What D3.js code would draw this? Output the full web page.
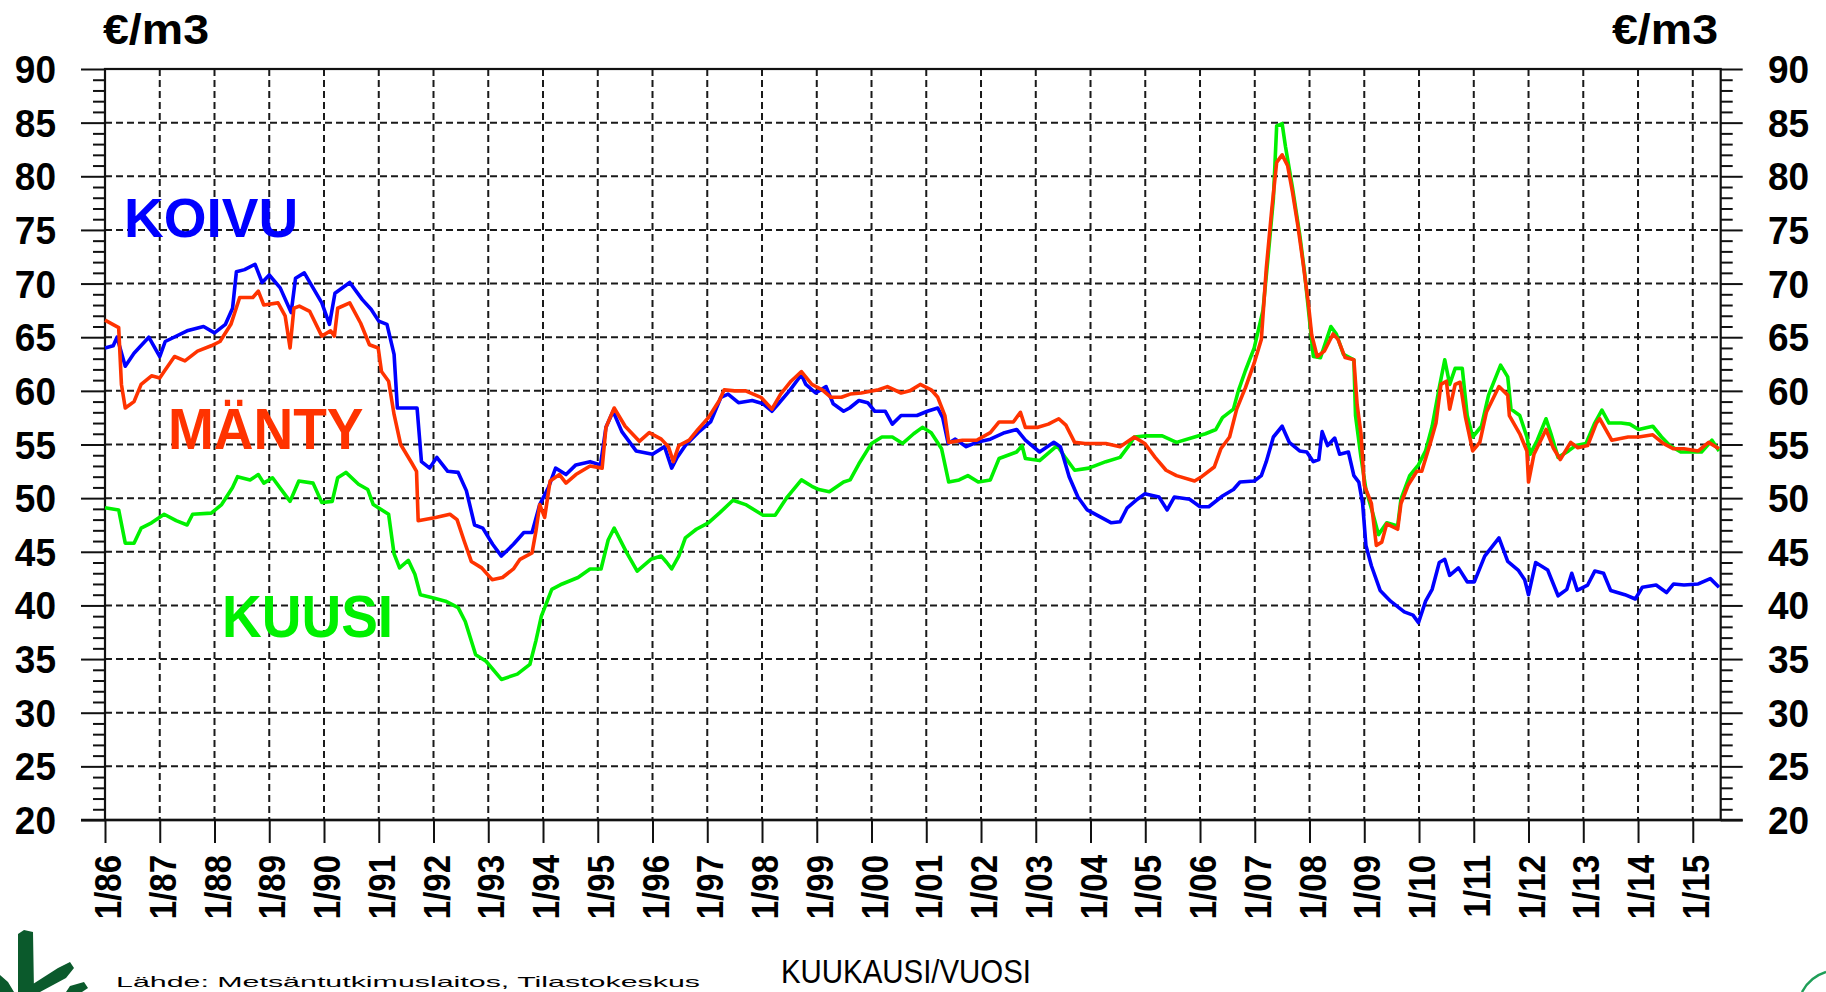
<!DOCTYPE html>
<html>
<head>
<meta charset="utf-8">
<script src="https://cdn.jsdelivr.net/npm/d3@7"></script>
<style>
  html, body { margin: 0; padding: 0; background: #ffffff; overflow: hidden; }
  svg { display: block; }
</style>
</head>
<body>
<script>
// ---------------- DATA ----------------
const yearTicks = d3.range(1986, 2016);
const yearLabels = yearTicks.map(y => "1/" + String(y % 100).padStart(2, "0"));
const valueTicks = [20, 25, 30, 35, 40, 45, 50, 55, 60, 65, 70, 75, 80, 85, 90];
const unitLabel = "€/m3";
const xAxisTitle = "KUUKAUSI/VUOSI";
const sourceText = "Lähde: Metsäntutkimuslaitos, Tilastokeskus";
const seriesNames = ["KOIVU", "MÄNTY", "KUUSI"];

// KOIVU (birch) [time, €/m3]
const koivu = [[1986.0,64.0],[1986.15,64.2],[1986.22,65.0],[1986.37,62.3],[1986.53,63.5],[1986.8,65.0],[1987.0,63.2],[1987.1,64.6],[1987.5,65.6],[1987.8,66.0],[1988.0,65.4],[1988.2,66.2],[1988.33,67.7],[1988.4,71.1],[1988.55,71.3],[1988.74,71.8],[1988.87,70.1],[1989.0,70.8],[1989.2,69.6],[1989.4,67.3],[1989.48,70.5],[1989.64,71.0],[1989.8,69.6],[1989.96,68.2],[1990.1,66.2],[1990.2,69.1],[1990.47,70.1],[1990.7,68.5],[1990.86,67.6],[1991.0,66.5],[1991.15,66.2],[1991.28,63.4],[1991.34,58.4],[1991.7,58.4],[1991.78,53.4],[1991.93,52.8],[1992.06,53.8],[1992.26,52.5],[1992.45,52.4],[1992.6,50.7],[1992.75,47.5],[1992.9,47.2],[1993.08,45.7],[1993.24,44.6],[1993.46,45.7],[1993.65,46.8],[1993.8,46.8],[1993.94,49.4],[1994.1,51.0],[1994.23,52.8],[1994.42,52.2],[1994.6,53.1],[1994.86,53.4],[1995.05,53.1],[1995.15,56.6],[1995.28,58.1],[1995.44,56.2],[1995.7,54.4],[1996.0,54.1],[1996.22,54.8],[1996.35,52.8],[1996.45,53.8],[1996.6,54.9],[1996.83,56.1],[1997.06,57.1],[1997.25,59.4],[1997.38,59.7],[1997.57,58.9],[1997.82,59.1],[1998.02,58.8],[1998.18,58.1],[1998.3,58.8],[1998.5,60.0],[1998.72,61.5],[1998.8,60.6],[1998.98,59.8],[1999.17,60.4],[1999.3,58.8],[1999.49,58.1],[1999.6,58.4],[1999.77,59.1],[1999.93,58.9],[2000.06,58.1],[2000.25,58.1],[2000.38,56.9],[2000.54,57.7],[2000.83,57.7],[2001.02,58.1],[2001.21,58.4],[2001.3,57.5],[2001.4,55.1],[2001.53,55.5],[2001.73,54.8],[2001.92,55.2],[2002.17,55.5],[2002.43,56.1],[2002.65,56.4],[2002.81,55.4],[2003.07,54.3],[2003.33,55.2],[2003.45,54.8],[2003.61,52.0],[2003.77,50.1],[2003.94,48.9],[2004.16,48.3],[2004.38,47.7],[2004.54,47.8],[2004.67,49.1],[2004.83,49.8],[2004.99,50.4],[2005.25,50.1],[2005.4,48.9],[2005.53,50.1],[2005.81,49.9],[2006.0,49.2],[2006.16,49.2],[2006.41,50.2],[2006.61,50.8],[2006.73,51.5],[2006.99,51.6],[2007.12,52.1],[2007.21,53.4],[2007.34,55.7],[2007.5,56.7],[2007.56,56.0],[2007.63,55.2],[2007.82,54.4],[2007.95,54.3],[2008.07,53.4],[2008.17,53.6],[2008.23,56.2],[2008.33,54.9],[2008.46,55.6],[2008.55,54.1],[2008.71,54.3],[2008.81,52.1],[2008.9,51.5],[2008.97,49.5],[2009.03,45.6],[2009.13,43.7],[2009.29,41.4],[2009.48,40.4],[2009.73,39.4],[2009.89,39.1],[2009.99,38.4],[2010.12,40.4],[2010.24,41.5],[2010.37,44.0],[2010.47,44.3],[2010.56,42.8],[2010.72,43.5],[2010.88,42.2],[2011.01,42.2],[2011.2,44.6],[2011.46,46.3],[2011.62,44.1],[2011.81,43.3],[2011.93,42.4],[2012.0,41.0],[2012.13,44.0],[2012.35,43.3],[2012.54,40.9],[2012.7,41.5],[2012.79,43.0],[2012.89,41.4],[2013.08,41.9],[2013.21,43.2],[2013.37,43.0],[2013.5,41.4],[2013.76,41.0],[2013.95,40.6],[2014.08,41.7],[2014.33,41.9],[2014.52,41.2],[2014.65,42.0],[2014.84,41.9],[2015.1,42.0],[2015.32,42.5],[2015.48,41.7]];

// MÄNTY (pine)
const manty = [[1986.0,66.6],[1986.25,65.9],[1986.3,60.6],[1986.37,58.4],[1986.53,59.0],[1986.66,60.6],[1986.85,61.4],[1987.0,61.2],[1987.08,61.8],[1987.27,63.2],[1987.46,62.8],[1987.69,63.7],[1987.94,64.2],[1988.1,64.6],[1988.3,66.2],[1988.46,68.7],[1988.7,68.7],[1988.8,69.3],[1988.9,68.0],[1989.16,68.2],[1989.29,67.0],[1989.38,64.0],[1989.45,67.7],[1989.55,67.9],[1989.74,67.4],[1989.96,65.1],[1990.12,65.6],[1990.19,65.1],[1990.25,67.7],[1990.47,68.2],[1990.67,66.3],[1990.83,64.3],[1990.99,64.0],[1991.05,61.8],[1991.18,60.9],[1991.28,57.8],[1991.4,55.0],[1991.6,53.3],[1991.69,52.5],[1991.72,47.9],[1992.04,48.2],[1992.3,48.5],[1992.43,48.0],[1992.56,46.0],[1992.69,44.1],[1992.88,43.5],[1993.07,42.4],[1993.26,42.6],[1993.46,43.4],[1993.58,44.3],[1993.8,44.9],[1993.87,46.9],[1993.94,49.4],[1994.03,48.2],[1994.13,51.6],[1994.3,52.2],[1994.42,51.4],[1994.6,52.2],[1994.86,53.0],[1995.08,52.8],[1995.15,56.6],[1995.3,58.4],[1995.5,56.7],[1995.76,55.3],[1995.94,56.1],[1996.16,55.5],[1996.29,54.8],[1996.38,53.4],[1996.48,54.9],[1996.67,55.4],[1996.83,56.4],[1997.02,57.5],[1997.22,59.1],[1997.31,60.1],[1997.5,60.0],[1997.7,60.0],[1997.98,59.4],[1998.18,58.3],[1998.34,59.7],[1998.53,60.9],[1998.72,61.8],[1998.91,60.6],[1999.1,60.1],[1999.26,59.4],[1999.45,59.4],[1999.61,59.7],[1999.81,59.8],[2000.13,60.1],[2000.29,60.4],[2000.54,59.8],[2000.7,60.0],[2000.89,60.6],[2001.09,60.1],[2001.21,59.4],[2001.34,57.7],[2001.41,55.2],[2001.66,55.4],[2001.92,55.4],[2002.17,56.1],[2002.33,57.1],[2002.59,57.1],[2002.72,58.0],[2002.81,56.6],[2003.04,56.6],[2003.23,56.9],[2003.42,57.4],[2003.55,56.8],[2003.71,55.2],[2003.9,55.1],[2004.28,55.1],[2004.54,54.8],[2004.8,55.7],[2004.99,55.1],[2005.18,53.8],[2005.38,52.6],[2005.57,52.1],[2005.9,51.6],[2006.03,52.0],[2006.26,52.9],[2006.38,54.6],[2006.54,55.7],[2006.67,58.3],[2006.83,60.3],[2006.99,62.6],[2007.12,64.8],[2007.21,71.4],[2007.31,76.9],[2007.4,81.3],[2007.5,82.0],[2007.6,81.0],[2007.69,78.5],[2007.79,75.3],[2007.88,72.0],[2007.98,68.1],[2008.04,65.2],[2008.14,63.2],[2008.27,63.7],[2008.43,65.3],[2008.52,64.8],[2008.65,63.1],[2008.81,62.9],[2008.87,58.7],[2008.94,56.0],[2009.0,51.2],[2009.13,49.5],[2009.22,45.6],[2009.32,45.9],[2009.41,47.6],[2009.61,47.1],[2009.67,49.5],[2009.8,51.2],[2009.96,52.5],[2010.05,52.5],[2010.21,55.2],[2010.31,57.0],[2010.4,60.6],[2010.5,60.9],[2010.56,58.3],[2010.66,60.6],[2010.75,60.8],[2010.85,57.5],[2010.98,54.4],[2011.11,55.2],[2011.23,58.0],[2011.46,60.4],[2011.62,59.6],[2011.65,57.7],[2011.84,56.0],[2011.97,54.4],[2012.0,51.5],[2012.1,54.1],[2012.32,56.4],[2012.45,54.7],[2012.58,53.6],[2012.77,55.2],[2012.9,54.7],[2013.08,54.9],[2013.24,57.0],[2013.3,57.4],[2013.52,55.4],[2013.82,55.7],[2014.01,55.7],[2014.27,55.9],[2014.46,55.1],[2014.65,54.6],[2014.84,54.6],[2015.1,54.4],[2015.29,55.2],[2015.48,54.6]];

// KUUSI (spruce)
const kuusi = [[1986.0,49.1],[1986.25,48.9],[1986.37,45.8],[1986.53,45.8],[1986.66,47.2],[1986.85,47.7],[1987.08,48.5],[1987.3,47.9],[1987.5,47.5],[1987.6,48.5],[1987.94,48.6],[1988.13,49.4],[1988.33,51.0],[1988.42,52.0],[1988.65,51.7],[1988.8,52.2],[1988.9,51.4],[1989.06,51.9],[1989.22,50.8],[1989.38,49.7],[1989.54,51.6],[1989.8,51.4],[1989.96,49.6],[1990.15,49.7],[1990.25,51.9],[1990.4,52.4],[1990.63,51.3],[1990.8,50.8],[1990.9,49.4],[1991.18,48.5],[1991.28,44.8],[1991.38,43.5],[1991.54,44.2],[1991.66,42.9],[1991.76,41.0],[1992.0,40.7],[1992.22,40.4],[1992.45,39.8],[1992.58,38.5],[1992.77,35.4],[1992.96,34.8],[1993.24,33.1],[1993.53,33.6],[1993.76,34.5],[1993.87,36.7],[1993.97,39.0],[1994.16,41.5],[1994.35,42.0],[1994.64,42.6],[1994.86,43.4],[1995.06,43.4],[1995.19,46.1],[1995.3,47.2],[1995.53,44.9],[1995.72,43.2],[1995.97,44.3],[1996.16,44.6],[1996.26,44.0],[1996.35,43.4],[1996.48,44.6],[1996.6,46.3],[1996.8,47.1],[1997.02,47.7],[1997.22,48.6],[1997.47,49.8],[1997.7,49.4],[1998.02,48.4],[1998.24,48.4],[1998.46,50.1],[1998.72,51.7],[1998.91,51.1],[1999.04,50.8],[1999.23,50.6],[1999.49,51.5],[1999.61,51.7],[1999.77,53.2],[2000.0,55.1],[2000.19,55.7],[2000.38,55.7],[2000.57,55.1],[2000.77,56.0],[2000.93,56.6],[2001.09,56.1],[2001.28,54.6],[2001.41,51.5],[2001.6,51.7],[2001.76,52.1],[2001.95,51.5],[2002.17,51.7],[2002.33,53.7],[2002.49,54.0],[2002.65,54.3],[2002.75,54.9],[2002.81,53.7],[2003.07,53.5],[2003.39,54.9],[2003.55,53.7],[2003.71,52.6],[2003.97,52.8],[2004.28,53.4],[2004.54,53.8],[2004.7,54.9],[2004.8,55.7],[2005.02,55.8],[2005.31,55.8],[2005.57,55.2],[2005.9,55.7],[2006.1,56.0],[2006.29,56.4],[2006.41,57.5],[2006.61,58.3],[2006.7,60.0],[2006.83,61.9],[2006.99,64.0],[2007.15,67.5],[2007.24,72.3],[2007.34,77.9],[2007.4,84.7],[2007.5,84.9],[2007.56,82.8],[2007.69,78.9],[2007.82,74.6],[2007.91,71.0],[2008.01,66.1],[2008.07,63.2],[2008.2,63.1],[2008.39,66.0],[2008.49,65.3],[2008.62,63.4],[2008.81,62.9],[2008.84,57.7],[2008.94,53.8],[2009.03,50.8],[2009.16,48.5],[2009.26,46.6],[2009.41,47.7],[2009.61,47.4],[2009.67,49.9],[2009.83,52.1],[2009.99,53.1],[2010.12,54.4],[2010.24,56.7],[2010.37,60.3],[2010.47,62.9],[2010.56,60.6],[2010.66,62.1],[2010.79,62.1],[2010.88,57.7],[2010.98,55.7],[2011.14,56.7],[2011.27,59.6],[2011.49,62.4],[2011.62,61.3],[2011.68,58.3],[2011.84,57.7],[2011.97,55.7],[2012.03,54.1],[2012.16,55.4],[2012.32,57.4],[2012.41,56.0],[2012.54,53.8],[2012.73,54.4],[2012.86,54.9],[2013.05,55.1],[2013.21,57.0],[2013.34,58.2],[2013.47,57.0],[2013.69,57.0],[2013.85,56.9],[2014.01,56.4],[2014.27,56.7],[2014.43,55.7],[2014.58,54.9],[2014.78,54.3],[2015.16,54.3],[2015.35,55.4],[2015.48,54.4]];

// ---------------- CHART ----------------
const W = 1826, H = 992;
const plotL = 105, plotR = 1720.7, plotT = 69, plotB = 820;
const BLUE = "#0000ff", RED = "#ff3300", GREEN = "#00f000";
const FONT = "'Liberation Sans', Arial, sans-serif";

const svg = d3.select("body").append("svg")
  .attr("width", W).attr("height", H)
  .attr("viewBox", `0 0 ${W} ${H}`);

const x = d3.scaleLinear().domain([1986, 2015.51]).range([plotL, plotR]);
const y = d3.scaleLinear().domain([20, 90]).range([plotB, plotT]);

// dashed grid
const grid = svg.append("g");
grid.selectAll("line.h").data(valueTicks.filter(v => v > 20 && v < 90)).join("line")
  .attr("class", "h")
  .attr("x1", plotL).attr("x2", plotR)
  .attr("y1", d => y(d)).attr("y2", d => y(d))
  .attr("stroke", "#1a1a1a").attr("stroke-width", 2).attr("stroke-dasharray", "7,4");
grid.selectAll("line.v").data(yearTicks.filter(t => t > 1986)).join("line")
  .attr("class", "v")
  .attr("x1", d => x(d)).attr("x2", d => x(d))
  .attr("y1", plotT).attr("y2", plotB)
  .attr("stroke", "#1a1a1a").attr("stroke-width", 2).attr("stroke-dasharray", "7,4");

// axes (ticks)
function styleAxis(g) {
  g.select(".domain").remove();
  g.selectAll(".tick line").attr("stroke", "#111").attr("stroke-width", 2);
  g.selectAll(".tick text").remove();
}
const minorVals = d3.range(20, 91, 1).filter(v => v % 5 !== 0);
svg.append("g").attr("transform", `translate(${plotL},0)`)
  .call(d3.axisLeft(y).tickValues(valueTicks).tickSize(24).tickFormat("")).call(styleAxis);
svg.append("g").attr("transform", `translate(${plotL},0)`)
  .call(d3.axisLeft(y).tickValues(minorVals).tickSize(12).tickFormat("")).call(styleAxis);
svg.append("g").attr("transform", `translate(${plotR},0)`)
  .call(d3.axisRight(y).tickValues(valueTicks).tickSize(22).tickFormat("")).call(styleAxis);
svg.append("g").attr("transform", `translate(${plotR},0)`)
  .call(d3.axisRight(y).tickValues(minorVals).tickSize(12).tickFormat("")).call(styleAxis);
svg.append("g").attr("transform", `translate(0,${plotB})`)
  .call(d3.axisBottom(x).tickValues(yearTicks).tickSize(23).tickFormat("")).call(styleAxis);

// frame
svg.append("rect").attr("x", plotL).attr("y", plotT)
  .attr("width", plotR - plotL).attr("height", plotB - plotT)
  .attr("fill", "none").attr("stroke", "#111").attr("stroke-width", 2.2);
svg.append("line").attr("x1", plotL - 24).attr("x2", plotR + 22).attr("y1", plotB).attr("y2", plotB)
  .attr("stroke", "#111").attr("stroke-width", 2.6);

// y tick labels
const yl = svg.append("g").attr("font-family", FONT).attr("font-weight", "bold")
  .attr("font-size", 37).attr("fill", "#000");
yl.selectAll("text.l").data(valueTicks).join("text")
  .attr("class", "l")
  .attr("text-anchor", "end")
  .attr("transform", d => `translate(56,${y(d) + 14}) scale(1,1.06)`)
  .text(d => d);
yl.selectAll("text.r").data(valueTicks).join("text")
  .attr("class", "r")
  .attr("text-anchor", "start")
  .attr("transform", d => `translate(1768,${y(d) + 14}) scale(1,1.06)`)
  .text(d => d);

// x tick labels (rotated)
svg.append("g").attr("font-family", FONT).attr("font-weight", "bold")
  .attr("font-size", 33).attr("fill", "#000")
  .selectAll("text").data(yearTicks).join("text")
  .attr("text-anchor", "end")
  .attr("transform", d => `translate(${x(d) + 16},855) rotate(-90) scale(1,1.1)`)
  .text((d, i) => yearLabels[i]);

// unit labels
svg.append("text").attr("x", 103).attr("y", 44)
  .attr("font-family", FONT).attr("font-weight", "bold").attr("font-size", 42)
  .attr("textLength", 106).attr("lengthAdjust", "spacingAndGlyphs")
  .text(unitLabel);
svg.append("text").attr("x", 1612).attr("y", 44)
  .attr("font-family", FONT).attr("font-weight", "bold").attr("font-size", 42)
  .attr("textLength", 106).attr("lengthAdjust", "spacingAndGlyphs")
  .text(unitLabel);

// series lines
const line = d3.line().x(d => x(d[0])).y(d => y(d[1])).curve(d3.curveLinear);
const plot = svg.append("g");
[[kuusi, GREEN], [koivu, BLUE], [manty, RED]].forEach(([data, col]) => {
  plot.append("path").datum(data)
    .attr("d", line)
    .attr("fill", "none").attr("stroke", col)
    .attr("stroke-width", 3.6).attr("stroke-linejoin", "round");
});

// series name labels
const nameG = svg.append("g").attr("font-family", FONT).attr("font-weight", "bold").attr("font-size", 55);
nameG.append("text").attr("transform", "translate(124,237) scale(1,1.02)").attr("fill", BLUE).text(seriesNames[0]);
nameG.append("text").attr("transform", "translate(168,449) scale(1,1.05)").attr("fill", RED).text(seriesNames[1]);
nameG.append("text").attr("transform", "translate(222,637) scale(1,1.08)").attr("fill", GREEN).text(seriesNames[2]);

// x axis title
svg.append("text").attr("transform", "translate(781,983) scale(1,1.12)")
  .attr("font-family", FONT).attr("font-size", 29).attr("fill", "#000")
  .attr("textLength", 250).attr("lengthAdjust", "spacingAndGlyphs")
  .text(xAxisTitle);

// source text (at the very bottom edge, as in reference)
svg.append("text").attr("x", 116).attr("y", 987)
  .attr("font-family", FONT).attr("font-size", 15).attr("fill", "#000")
  .attr("textLength", 584).attr("lengthAdjust", "spacingAndGlyphs")
  .text(sourceText);

// logo (bottom left) and decorative arc (bottom right)
svg.append("path")
  .attr("d", "M18,934 L24,930 L33,932 L34,992 L18,992 Z M33,984 L58,968 L70,962 L74,968 L66,978 L40,992 L33,992 Z M0,975 L8,982 L14,992 L0,992 Z M70,986 L84,982 L88,988 L82,992 L66,992 Z")
  .attr("fill", "#0b5a2c");
svg.append("path")
  .attr("d", "M1802,992 Q1810,977 1826,972")
  .attr("fill", "none").attr("stroke", "#1f9e58").attr("stroke-width", 2.5);
</script>
</body>
</html>
